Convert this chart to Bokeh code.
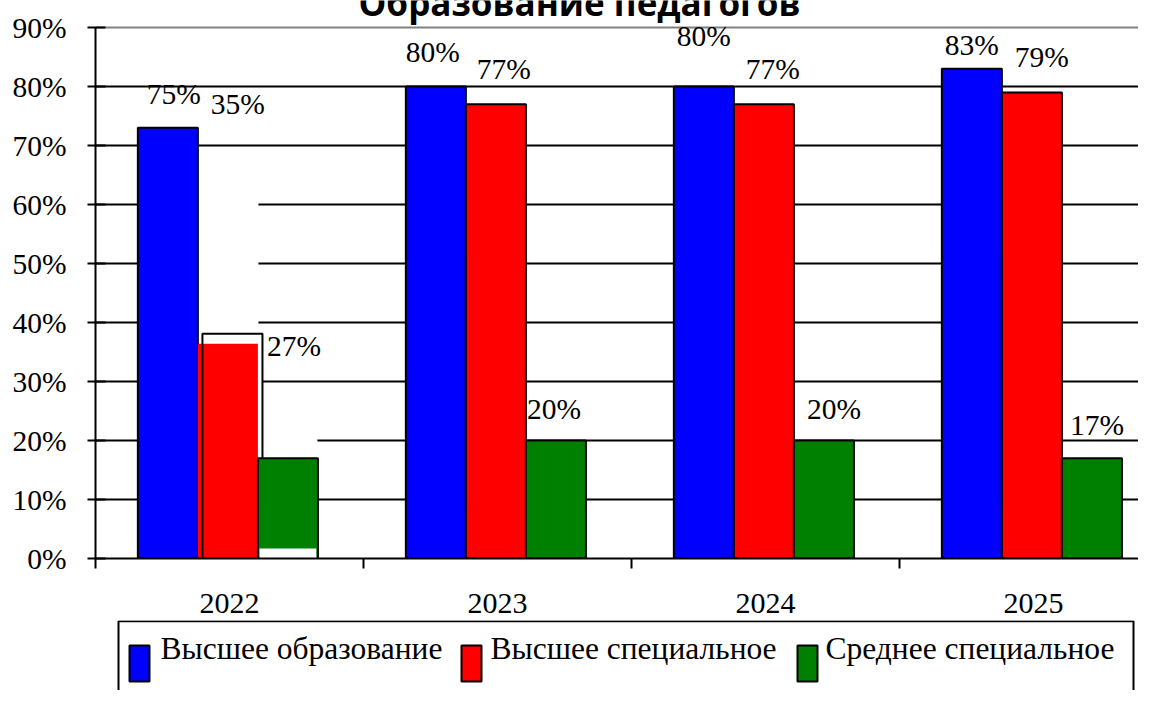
from bokeh.plotting import figure
from bokeh.layouts import column
from bokeh.models import (Range1d, FixedTicker, PrintfTickFormatter, Label, Grid,
                          ColumnDataSource)
from bokeh.core.properties import value
from bokeh.embed import file_html
from bokeh.resources import INLINE

# ---------------- data ----------------
years = ["2022", "2023", "2024", "2025"]
series_names = ["Высшее образование", "Высшее специальное", "Среднее специальное"]
higher = [73, 80, 80, 83]
higher_special = [36.4, 77, 77, 79]
secondary_special = [17, 20, 20, 17]
higher_labels = ["75%", "80%", "80%", "83%"]
higher_special_labels = ["35%", "77%", "77%", "79%"]
secondary_labels = ["27%", "20%", "20%", "17%"]
y_ticks = [0, 10, 20, 30, 40, 50, 60, 70, 80, 90]
title_text = "Образование педагогов"

# label baselines as placed in the original chart (percent units)
higher_label_y = [76.8, 83.9, 86.6, 85.1]
higher_special_label_y = [75.1, 81.0, 81.0, 83.1]
secondary_label_y = [34.1, 23.4, 23.4, 20.8]
# horizontal label nudges (px)
higher_label_dx = [6, -3, 0, 0]
higher_special_label_dx = [10, 8, 9, 10]
secondary_label_dx = [6, -2, 10, 5]
higher_special_line_alpha = [0, 1, 1, 1]

# ---------------- style ----------------
BLUE, RED, GREEN = "#0000FF", "#FF0000", "#008000"
SERIF = "Liberation Serif"
BAR_W = 0.224
GROUP_C = 0.494
W = 1138
LABEL_PX = 29.5
TITLE_PX = 35

n = len(years)
centers = [i + GROUP_C for i in range(n)]
x_blue = [c - BAR_W for c in centers]
x_red = centers
x_green = [c + BAR_W for c in centers]

# frame spans from the canvas top to the 0% line; 5.9 px per percent
p = figure(width=W, height=620, output_backend="svg", toolbar_location=None,
           x_range=Range1d(0, (W - 95) / 268), y_range=Range1d(0, 558 / 5.9),
           min_border_left=95, min_border_right=0, min_border_top=0,
           min_border_bottom=62)
p.outline_line_color = None
p.background_fill_color = "white"
p.border_fill_color = "white"

# grid
p.xgrid.visible = False
p.ygrid.ticker = FixedTicker(ticks=y_ticks[1:-1])
p.ygrid.grid_line_color = "black"
p.ygrid.grid_line_width = 2
top_grid = Grid(dimension=1, ticker=FixedTicker(ticks=[y_ticks[-1]]),
                grid_line_color="#808080", grid_line_width=2)
p.add_layout(top_grid)

# y axis
ya = p.yaxis[0]
ya.ticker = FixedTicker(ticks=y_ticks)
ya.formatter = PrintfTickFormatter(format="%d%%")
ya.bounds = (0, 90)
ya.major_tick_in = 10
ya.major_tick_out = 8
ya.minor_tick_in = 0
ya.minor_tick_out = 0
ya.axis_line_width = 2
ya.axis_line_color = "black"
ya.major_tick_line_width = 2
ya.major_tick_line_color = "black"
ya.major_label_text_font = SERIF
ya.major_label_text_font_size = "29.5px"
ya.major_label_text_color = "black"
ya.major_label_standoff = 21

# x axis
xa = p.xaxis[0]
xa.ticker = FixedTicker(ticks=[i + 0.5 for i in range(n)], minor_ticks=list(range(n)))
xa.major_label_overrides = {i + 0.5: years[i] for i in range(n)}
xa.major_tick_in = 0
xa.major_tick_out = 0
xa.minor_tick_in = 0
xa.minor_tick_out = 10
xa.minor_tick_line_width = 2
xa.minor_tick_line_color = "black"
xa.axis_line_width = 2
xa.axis_line_color = "black"
xa.major_label_text_font = SERIF
xa.major_label_text_font_size = "30px"
xa.major_label_text_color = "black"
xa.major_label_standoff = 25

# 2022 artefacts of the original: white patches hiding gridlines
p.quad(left=[0.381, 0.608, 0.399], right=[0.608, 0.828, 0.623],
       bottom=[0, 0, 0], top=[65, 22, 38.1], fill_color="white", line_color=None)

src = ColumnDataSource(dict(x_blue=x_blue, x_red=x_red, x_green=x_green,
                            higher=higher, higher_special=higher_special,
                            secondary_special=secondary_special,
                            red_alpha=higher_special_line_alpha))

p.vbar(x="x_blue", top="higher", width=BAR_W, source=src,
       fill_color=BLUE, line_color="black", line_width=2)
p.vbar(x="x_red", top="higher_special", width=BAR_W, source=src,
       fill_color=RED, line_color="black", line_width=2, line_alpha="red_alpha")
# hollow frame around the 2022 red bar
p.quad(left=[0.399], right=[0.623], bottom=[-0.7], top=[38.1],
       fill_color=None, line_color="black", line_width=2)
p.vbar(x="x_green", top="secondary_special", width=BAR_W, source=src,
       fill_color=GREEN, line_color="black", line_width=2)
# white strip at foot of 2022 green bar
p.quad(left=[0.612], right=[0.824], bottom=[0], top=[1.7],
       fill_color="white", line_color=None)

# data labels
lab_src = ColumnDataSource(dict(
    x=x_blue + x_red + x_green,
    y=higher_label_y + higher_special_label_y + secondary_label_y,
    t=higher_labels + higher_special_labels + secondary_labels,
    dx=higher_label_dx + higher_special_label_dx + secondary_label_dx))
p.text(x="x", y="y", text="t", x_offset="dx", y_offset=-0.38 * LABEL_PX, source=lab_src,
       text_align="center", text_baseline="alphabetic",
       text_font=value(SERIF), text_font_size=f"{LABEL_PX}px", text_color="black")

# title (cut by the top edge, as in the original)
p.add_layout(Label(x=1.806, y=91.95, y_offset=0.38 * TITLE_PX, text=title_text,
                   text_align="center", text_baseline="alphabetic", text_font="Open Sans",
                   text_font_style="bold", text_font_size=f"{TITLE_PX}px",
                   text_color="black"))

# ---------------- legend strip (drawn like the original's clipped legend box) ----------------
lg = figure(width=W, height=70, output_backend="svg", toolbar_location=None,
            x_range=Range1d(95, W), y_range=Range1d(690, 620),
            x_axis_type=None, y_axis_type=None,
            min_border_left=95, min_border_right=0, min_border_top=0, min_border_bottom=0)
lg.outline_line_color = None
lg.background_fill_color = "white"
lg.border_fill_color = "white"
lg.xgrid.visible = False
lg.ygrid.visible = False

lg.line(x=[118, 118, 1133, 1133], y=[720, 620.8, 620.8, 720], line_color="black", line_width=2)
lg.quad(left=[129, 461, 797], right=[149, 481, 817], top=[645] * 3, bottom=[681] * 3,
        fill_color=[BLUE, RED, GREEN], line_color="black", line_width=2)
lg.text(x=[160, 490, 825], y=[660] * 3, text=series_names, y_offset=-12,
        text_align="left", text_baseline="alphabetic",
        text_font=value(SERIF), text_font_size="31.5px", text_color="black")

layout = column(p, lg, spacing=0)
open("out.html", "w").write(file_html(layout, INLINE))
